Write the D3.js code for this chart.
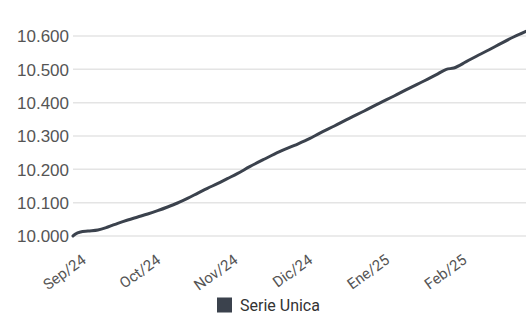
<!DOCTYPE html>
<html>
<head>
<meta charset="utf-8">
<script src="https://cdn.jsdelivr.net/npm/d3@7"></script>
<style>
  body { margin: 0; background: #fff; }
  svg { display: block; }
</style>
</head>
<body>
<svg id="chart" width="526" height="314"></svg>
<script>
// series
const dates = [
  "2024-09-01","2024-09-02","2024-09-04","2024-09-07","2024-09-11","2024-09-15",
  "2024-09-19","2024-09-23","2024-09-27","2024-10-01","2024-10-05","2024-10-09",
  "2024-10-13","2024-10-17","2024-10-21","2024-10-25","2024-10-29","2024-11-02",
  "2024-11-06","2024-11-11","2024-11-17","2024-11-23","2024-11-29","2024-12-05",
  "2024-12-09","2024-12-15","2024-12-21","2024-12-27","2025-01-02","2025-01-08",
  "2025-01-14","2025-01-20","2025-01-25","2025-01-29","2025-02-01","2025-02-06",
  "2025-02-11","2025-02-15","2025-02-20","2025-02-25","2025-03-02"
];
const values = [
  10.000, 10.006, 10.012, 10.015, 10.018, 10.027,
  10.038, 10.048, 10.057, 10.066, 10.076, 10.087,
  10.099, 10.113, 10.128, 10.143, 10.157, 10.172,
  10.187, 10.208, 10.231, 10.253, 10.272, 10.292,
  10.308, 10.330, 10.353, 10.375, 10.398, 10.420,
  10.443, 10.465, 10.484, 10.500, 10.504, 10.523,
  10.543, 10.558, 10.578, 10.597, 10.614
];
const yTicks = [10.0, 10.1, 10.2, 10.3, 10.4, 10.5, 10.6];
const monthTicks = ["2024-09-01","2024-10-01","2024-11-01","2024-12-01","2025-01-01","2025-02-01"];
const monthLabels = ["Sep/24","Oct/24","Nov/24","Dic/24","Ene/25","Feb/25"];
const seriesName = "Serie Unica";

const parse = d3.utcParse("%Y-%m-%d");
const data = dates.map((d, i) => ({date: parse(d), value: values[i]}));

const svg = d3.select("#chart");
const plotLeft = 73, plotRight = 526, plotTop = 36, plotBottom = 236;

const x = d3.scaleUtc()
    .domain([parse("2024-09-01"), parse("2025-03-02")])
    .range([plotLeft, plotRight]);
const y = d3.scaleLinear()
    .domain([10.0, 10.6])
    .range([plotBottom, plotTop]);

const fmt = d3.format(".3f");

// grid
svg.append("g")
  .selectAll("line")
  .data(yTicks)
  .join("line")
    .attr("x1", plotLeft)
    .attr("x2", plotRight)
    .attr("y1", d => y(d))
    .attr("y2", d => y(d))
    .attr("stroke", "#e4e4e4")
    .attr("stroke-width", 1.5);

// y labels
svg.append("g")
  .selectAll("text")
  .data(yTicks)
  .join("text")
    .attr("x", plotLeft - 4)
    .attr("y", d => y(d) + 0.5)
    .attr("dy", "0.35em")
    .attr("text-anchor", "end")
    .attr("font-family", "'Liberation Sans', Arial, sans-serif")
    .attr("font-size", 17)
    .attr("fill", "#555")
    .text(d => fmt(d));

// x labels, rotated
svg.append("g")
  .selectAll("text")
  .data(monthTicks)
  .join("text")
    .attr("transform", d => `translate(${x(parse(d)) + 14},${262}) rotate(-36)`)
    .attr("text-anchor", "end")
    .attr("font-family", "Roboto, sans-serif")
    .attr("font-size", 15)
    .attr("fill", "#555")
    .text((d, i) => monthLabels[i]);

// the line
const line = d3.line()
    .x(d => x(d.date))
    .y(d => y(d.value))
    .curve(d3.curveMonotoneX);

svg.append("clipPath").attr("id", "clip")
  .append("rect").attr("x", plotLeft - 3).attr("y", 0).attr("width", plotRight - plotLeft + 3).attr("height", 314);

svg.append("path")
    .datum(data)
    .attr("clip-path", "url(#clip)")
    .attr("fill", "none")
    .attr("stroke", "#3b424d")
    .attr("stroke-width", 3)
    .attr("stroke-linejoin", "round")
    .attr("stroke-linecap", "round")
    .attr("d", line);

// legend
const legend = svg.append("g").attr("transform", "translate(217,297.5)");
legend.append("rect")
    .attr("width", 15)
    .attr("height", 15)
    .attr("fill", "#3b424d");
legend.append("text")
    .attr("x", 23)
    .attr("y", 8)
    .attr("dy", "0.35em")
    .attr("font-family", "Roboto, sans-serif")
    .attr("font-size", 16)
    .attr("fill", "#333")
    .text(seriesName);
</script>
</body>
</html>
